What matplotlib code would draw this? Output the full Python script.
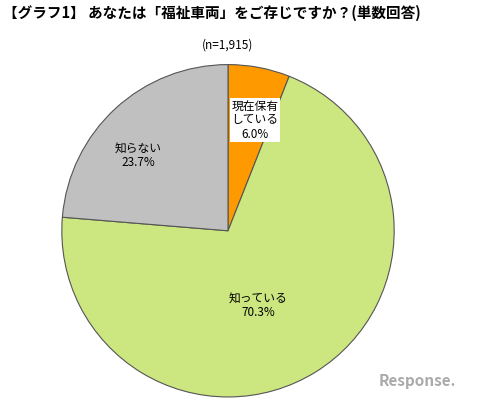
import matplotlib
matplotlib.use("Agg")
import matplotlib.pyplot as plt

plt.rcParams['font.family'] = ['Noto Sans CJK JP', 'DejaVu Sans']

labels = ["現在保有\nしている", "知っている", "知らない"]
values = [6.0, 70.3, 23.7]
colors = ["#FF9900", "#CCE680", "#C0C0C0"]

fig = plt.figure(figsize=(4.8, 4.01), dpi=100)
ax = fig.add_axes([0.127, 0.008, 0.696, 0.833])
wedges, _ = ax.pie(values, colors=colors, startangle=90, counterclock=False,
                   wedgeprops=dict(edgecolor="#555555", linewidth=0.8))
ax.set_xlim(-1.005, 1.005)
ax.set_ylim(-1.005, 1.005)
ax.set_aspect('equal')

pos = [(255, 120), (258, 305), (138, 155)]
for (x, y), l, v in zip(pos, labels, values):
    fig.text(x/480, 1 - y/401, f"{l}\n{v:.1f}%", ha='center', va='center',
             fontsize=8.5, linespacing=1.1,
             bbox=dict(facecolor='white', edgecolor='none', pad=1) if v == 6.0 else None)

fig.text(3/480, 1 - 13/401, "【グラフ1】 あなたは「福祉車両」をご存じですか？(単数回答)",
         ha='left', va='center', fontsize=10.5, fontweight='bold')
fig.text(228/480, 1 - 45/401, "(n=1,915)", ha='center', va='center', fontsize=8.5)
fig.text(0.87, 0.05, "Response.", ha='center', va='center', fontsize=11,
         color='#aaaaaa', style='italic', fontweight='bold')
fig.savefig("out.png", dpi=100)
